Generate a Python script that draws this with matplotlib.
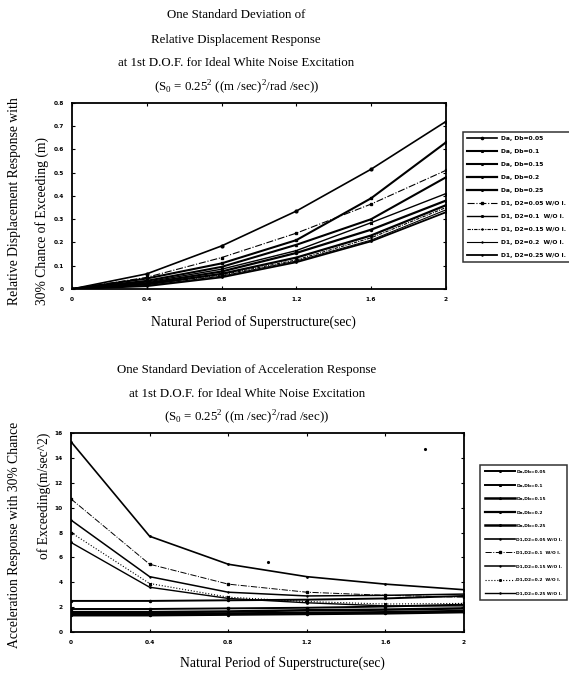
import matplotlib
matplotlib.use("Agg")
import matplotlib.pyplot as plt

plt.rcParams['font.family'] = ['Liberation Serif', 'DejaVu Serif']
plt.rcParams['mathtext.fontset'] = 'custom'
plt.rcParams['mathtext.rm'] = 'Liberation Serif'

# natural period of superstructure (sec)
period = [0, 0.4, 0.8, 1.2, 1.6, 2.0]

labels_disp = ["Da, Db=0.05", "Da, Db=0.1", "Da, Db=0.15", "Da, Db=0.2", "Da, Db=0.25",
               "D1, D2=0.05 W/O I.", "D1, D2=0.1  W/O I.", "D1, D2=0.15 W/O I.",
               "D1, D2=0.2  W/O I.", "D1, D2=0.25 W/O I."]
labels_acc = ["Da,Db=0.05", "Da,Db=0.1", "Da,Db=0.15", "Da,Db=0.2", "Da,Db=0.25",
              "D1,D2=0.05 W/O I.", "D1,D2=0.1  W/O I.", "D1,D2=0.15 W/O I.",
              "D1,D2=0.2  W/O I.", "D1,D2=0.25 W/O I."]

# relative displacement (m)
disp_da005 = [0, 0.065, 0.185, 0.335, 0.515, 0.72]
disp_da010 = [0, 0.045, 0.110, 0.210, 0.390, 0.63]
disp_da015 = [0, 0.035, 0.095, 0.190, 0.300, 0.48]
disp_da020 = [0, 0.025, 0.075, 0.155, 0.255, 0.38]
disp_da025 = [0, 0.020, 0.065, 0.135, 0.230, 0.36]
disp_d1005 = [0, 0.050, 0.135, 0.240, 0.365, 0.51]
disp_d1010 = [0, 0.030, 0.085, 0.165, 0.285, 0.41]
disp_d1015 = [0, 0.020, 0.060, 0.125, 0.220, 0.35]
disp_d1020 = [0, 0.015, 0.055, 0.120, 0.210, 0.34]
disp_d1025 = [0, 0.012, 0.050, 0.115, 0.205, 0.33]

# acceleration (m/sec^2)
acc_da005 = [2.50, 2.50, 2.55, 2.60, 2.70, 2.90]
acc_da010 = [1.85, 1.85, 1.90, 1.95, 2.05, 2.20]
acc_da015 = [1.60, 1.60, 1.65, 1.75, 1.80, 1.90]
acc_da020 = [1.45, 1.45, 1.50, 1.55, 1.60, 1.70]
acc_da025 = [1.35, 1.35, 1.40, 1.45, 1.50, 1.60]
acc_d1005 = [15.3, 7.7, 5.45, 4.45, 3.85, 3.4]
acc_d1010 = [10.7, 5.45, 3.85, 3.2, 2.95, 2.8]
acc_d1015 = [9.0, 4.45, 3.2, 2.9, 2.95, 3.05]
acc_d1020 = [8.0, 3.9, 2.8, 2.45, 2.25, 2.3]
acc_d1025 = [7.2, 3.6, 2.7, 2.35, 2.1, 2.1]

# loose points on the acceleration plot
stray_x = [1.0, 1.8]
stray_y = [5.6, 14.75]

disp_series = [disp_da005, disp_da010, disp_da015, disp_da020, disp_da025,
               disp_d1005, disp_d1010, disp_d1015, disp_d1020, disp_d1025]
acc_series = [acc_da005, acc_da010, acc_da015, acc_da020, acc_da025,
              acc_d1005, acc_d1010, acc_d1015, acc_d1020, acc_d1025]

styles_disp = [
    dict(ls='-', lw=1.2, marker='o', ms=2),
    dict(ls='-', lw=1.5, marker='s', ms=1.5),
    dict(ls='-', lw=1.5, marker='^', ms=1.5),
    dict(ls='-', lw=1.6, marker='o', ms=1.5),
    dict(ls='-', lw=1.6, marker='o', ms=1.5),
    dict(ls='-.', lw=0.8, marker='s', ms=2),
    dict(ls='-', lw=1.0, marker='x', ms=2),
    dict(ls=(0, (3, 1, 1, 1)), lw=0.8, marker='+', ms=2),
    dict(ls='-', lw=0.8, marker='+', ms=2),
    dict(ls='-', lw=1.3, marker='.', ms=2),
]
styles_acc = [
    dict(ls='-', lw=1.4, marker='o', ms=1.5),
    dict(ls='-', lw=1.4, marker='s', ms=1.5),
    dict(ls='-', lw=1.8, marker='^', ms=1.5),
    dict(ls='-', lw=1.6, marker='o', ms=1.5),
    dict(ls='-', lw=1.8, marker='o', ms=1.5),
    dict(ls='-', lw=1.2, marker='.', ms=2),
    dict(ls='-.', lw=0.7, marker='s', ms=2),
    dict(ls='-', lw=1.1, marker='+', ms=2),
    dict(ls=':', lw=0.8, marker='x', ms=2),
    dict(ls='-', lw=1.0, marker='.', ms=2),
]

tick_font = dict(fontsize=4.2, fontweight='bold', family='DejaVu Sans')

fig = plt.figure(figsize=(5.69, 6.73), dpi=100)


def style_axes(ax, ymax, ystep):
    ax.set_xlim(0, 2)
    ax.set_ylim(0, ymax)
    ax.set_xticks(period)
    ax.set_xticklabels(["0", "0.4", "0.8", "1.2", "1.6", "2"], **tick_font)
    yt = [round(i * ystep, 2) for i in range(int(round(ymax / ystep)) + 1)]
    ax.set_yticks(yt)
    ax.set_yticklabels([f"{v:g}" for v in yt], **tick_font)
    ax.tick_params(direction='in', length=2, width=0.8, top=True, right=True, pad=6)
    for s in ax.spines.values():
        s.set_linewidth(1.3)


# --- displacement ---
ax1 = fig.add_axes([0.1265, 0.5706, 0.657, 0.2764])
for ys, lab, st in zip(disp_series, labels_disp, styles_disp):
    ax1.plot(period, ys, color='black', label=lab, **st)
style_axes(ax1, 0.8, 0.1)

for y, t in zip([0.978, 0.9406, 0.906, 0.871],
                ["One Standard Deviation of",
                 "Relative Displacement Response",
                 "at 1st D.O.F. for Ideal White Noise Excitation",
                 r"(S$_0$ = 0.25$^2$ ((m /sec)$^2$/rad /sec))"]):
    fig.text(0.415, y, t, ha='center', va='center', fontsize=9.3)

fig.text(0.026, 0.547, "Relative Displacement Response with", rotation=90,
         ha='center', va='bottom', fontsize=9.8)
fig.text(0.074, 0.547, "30% Chance of Exceeding (m)", rotation=90,
         ha='center', va='bottom', fontsize=9.8)
fig.text(0.446, 0.5215, "Natural Period of Superstructure(sec)",
         ha='center', va='center', fontsize=9.8)

leg1 = fig.legend(*ax1.get_legend_handles_labels(), loc='upper left',
                  bbox_to_anchor=(0.808, 0.8083), fancybox=False, edgecolor='black',
                  prop=dict(size=4.3, weight='bold', family='DejaVu Sans'),
                  handlelength=5.0, labelspacing=1.3, borderpad=0.7,
                  handletextpad=0.7, markerscale=0.8)
leg1.get_frame().set_linewidth(1.1)

# --- acceleration ---
ax2 = fig.add_axes([0.1248, 0.0609, 0.6907, 0.2957])
for ys, lab, st in zip(acc_series, labels_acc, styles_acc):
    ax2.plot(period, ys, color='black', label=lab, **st)
ax2.plot(stray_x, stray_y, ls='none', marker='.', ms=2.5, color='black')
style_axes(ax2, 16, 2)

for y, t in zip([0.450, 0.4146, 0.380],
                ["One Standard Deviation of Acceleration Response",
                 "at 1st D.O.F. for Ideal White Noise Excitation",
                 r"(S$_0$ = 0.25$^2$ ((m /sec)$^2$/rad /sec))"]):
    fig.text(0.434, y, t, ha='center', va='center', fontsize=9.3)

fig.text(0.025, 0.205, "Acceleration Response with 30% Chance", rotation=90,
         ha='center', va='center', fontsize=9.8)
fig.text(0.077, 0.264, "of Exceeding(m/sec^2)", rotation=90,
         ha='center', va='center', fontsize=9.8)
fig.text(0.496, 0.015, "Natural Period of Superstructure(sec)",
         ha='center', va='center', fontsize=9.8)

leg2 = fig.legend(*ax2.get_legend_handles_labels(), loc='upper left',
                  bbox_to_anchor=(0.840, 0.312), fancybox=False, edgecolor='black',
                  prop=dict(size=3.2, weight='bold', family='DejaVu Sans'),
                  handlelength=6.8, labelspacing=2.12, borderpad=1.0,
                  handletextpad=0.3, markerscale=0.8)
leg2.get_frame().set_linewidth(1.1)

fig.savefig("out.png", dpi=100)
